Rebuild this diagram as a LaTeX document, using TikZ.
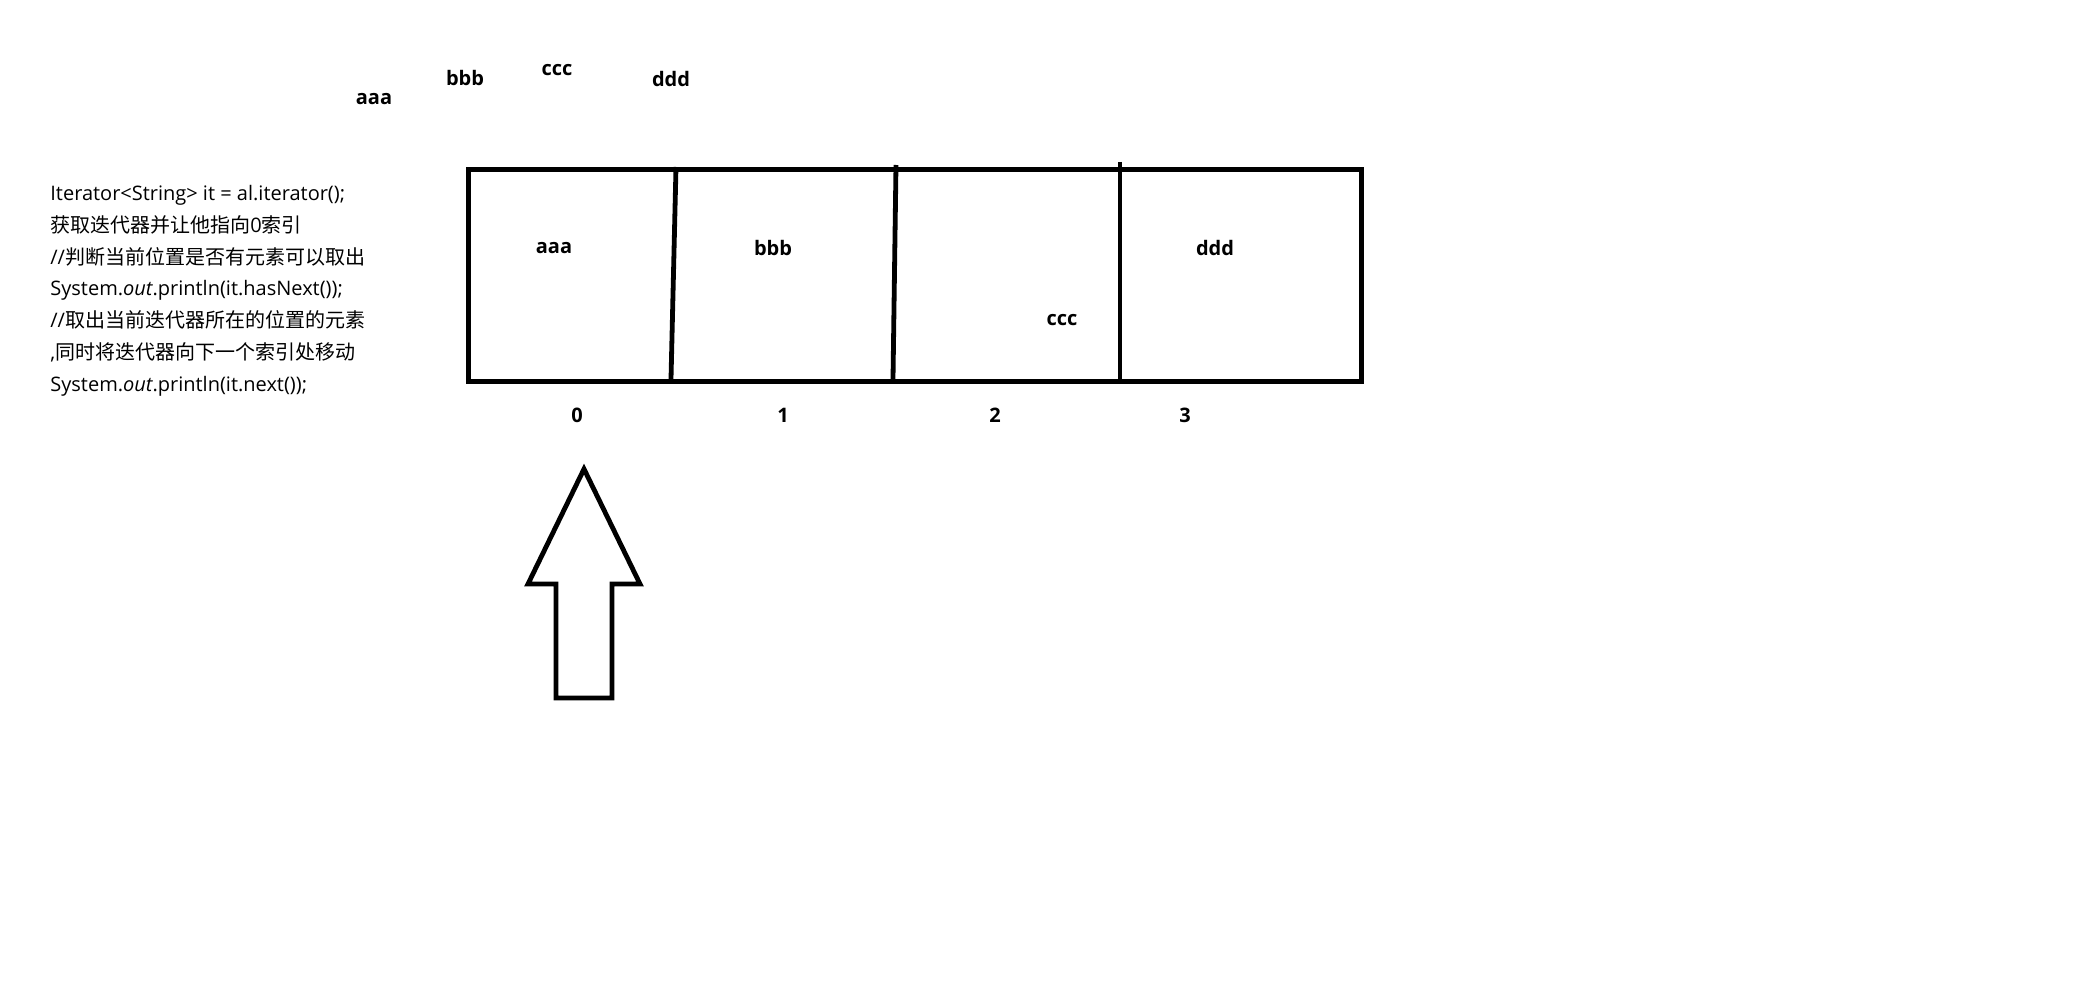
\documentclass[tikz,border=0pt]{standalone}
\usepackage{fontspec}
\setmainfont{Open Sans}
\newfontfamily\cjk{Noto Sans CJK SC}

\begin{document}
\begin{tikzpicture}[x=0.5pt, y=-0.5pt, every node/.style = {inner sep=0pt, font=\fontsize{10}{15.9}\selectfont}]
	\tikzset{ lbl/.style = {font=\fontsize{10}{12}\selectfont\bfseries}, heavy/.style = {line width=2.4pt} }
	\useasboundingbox (0,0) rectangle (2100,1000);
	% code on the left
	\node [anchor=north west, align=left] (code) at (50,185) {Iterator<String> it = al.iterator();\\
		{\cjk 获取迭代器并让他指向}0{\cjk 索引}\\
		//{\cjk 判断当前位置是否有元素可以取出}\\
		System.\textit{out}.println(it.hasNext());\\
		//{\cjk 取出当前迭代器所在的位置的元素}\\
		,{\cjk 同时将迭代器向下一个索引处移动}\\
		System.\textit{out}.println(it.next());};
	% loose elements
	\node [lbl] (topA) at (374,99) {aaa};
	\node [lbl] (topB) at (465,78) {bbb};
	\node [lbl] (topC) at (557,70) {ccc};
	\node [lbl] (topD) at (671,79) {ddd};
	% the list
	\node [draw, heavy, anchor=north west, minimum width=446.5pt, minimum height=106pt] (list) at (466,167) {};
	\draw [heavy] (676,167) -- (671,379);
	\draw [heavy] (896,165) -- (893,379);
	\draw [heavy] (1120,162) -- (1120,383);
	\node [lbl] (cellA) at (554,248) {aaa};
	\node [lbl] (cellB) at (773,248) {bbb};
	\node [lbl] (cellC) at (1062,320) {ccc};
	\node [lbl] (cellD) at (1215,248) {ddd};
	\node [lbl] (idx0) at (577,415) {0};
	\node [lbl] (idx1) at (783,415) {1};
	\node [lbl] (idx2) at (995,415) {2};
	\node [lbl] (idx3) at (1185,415) {3};
	% iterator pointer
	\draw [heavy] (584,469) -- (640,584) -- (612,584) -- (612,698) -- (556,698) -- (556,584) -- (528,584) -- cycle;
\end{tikzpicture}
\end{document}
